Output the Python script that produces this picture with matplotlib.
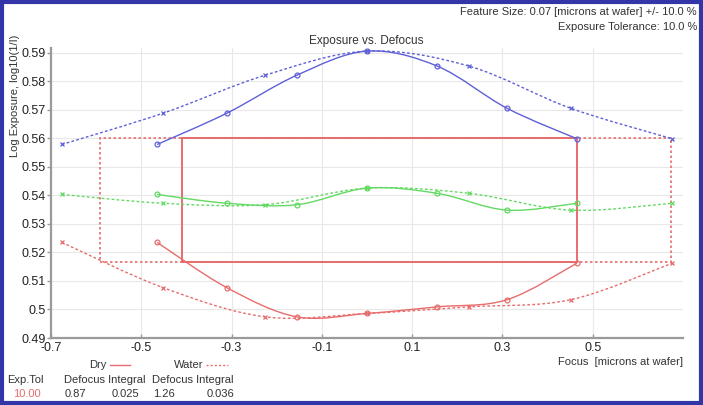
import matplotlib
matplotlib.use("Agg")
import matplotlib.pyplot as plt
import numpy as np
from matplotlib.path import Path
from matplotlib.patches import PathPatch, Rectangle
from matplotlib.lines import Line2D

plt.rcParams['font.family'] = ['Liberation Sans', 'DejaVu Sans']

# ── data ─────────────────────────────────────────────
dry_focus = [-0.465, -0.31, -0.155, 0.0, 0.155, 0.31, 0.465]
water_focus = [-0.676, -0.451, -0.225, 0.0, 0.225, 0.451, 0.676]

exp_high = [0.5578, 0.5688, 0.5821, 0.5905, 0.5853, 0.5705, 0.5598]
exp_mid = [0.5403, 0.5372, 0.5367, 0.5425, 0.5407, 0.5348, 0.5372]
exp_low = [0.5235, 0.5076, 0.4974, 0.4986, 0.5009, 0.5034, 0.5162]

dry_box = (-0.41, 0.466, 0.5166, 0.5600)     # x0, x1, y0, y1
water_box = (-0.592, 0.673, 0.5166, 0.5600)

x_ticks = [-0.7, -0.5, -0.3, -0.1, 0.1, 0.3, 0.5]
y_ticks = [0.49, 0.50, 0.51, 0.52, 0.53, 0.54, 0.55, 0.56, 0.57, 0.58, 0.59]
y_tick_labels = ["0.49", "0.5", "0.51", "0.52", "0.53", "0.54", "0.55",
                 "0.56", "0.57", "0.58", "0.59"]

BLUE = "#5f5fd8"
GREEN = "#62da62"
RED = "#e86c6c"


def smooth_path(xs, ys):
    """Catmull-Rom 曲線轉成 Bezier path（只是畫法，不是資料）"""
    pts = np.column_stack([xs, ys])
    ext = np.vstack([pts[0], pts, pts[-1]])
    verts = [pts[0]]
    codes = [Path.MOVETO]
    for i in range(1, len(ext) - 2):
        p0, p1, p2, p3 = ext[i - 1], ext[i], ext[i + 1], ext[i + 2]
        verts += [p1 + (p2 - p0) / 6, p2 - (p3 - p1) / 6, p2]
        codes += [Path.CURVE4] * 3
    return Path(verts, codes)


def draw_curve(ax, xs, ys, color, dashed, marker):
    ls = (0, (2, 1.6)) if dashed else "-"
    ax.add_patch(PathPatch(smooth_path(xs, ys), fill=False, edgecolor=color,
                           linewidth=1.0, linestyle=ls, zorder=3))
    ax.plot(xs, ys, linestyle="none", marker=marker, markersize=3.5,
            markerfacecolor="none", markeredgecolor=color, markeredgewidth=0.9,
            zorder=4)


fig = plt.figure(figsize=(7.03, 4.05), dpi=100)
ax = fig.add_axes([51 / 703, 1 - 338 / 405, (683 - 51) / 703, (338 - 48) / 405])

ax.set_xlim(-0.7, 0.7)
ax.set_ylim(0.49, 0.5916)
ax.set_xticks(x_ticks)
ax.set_xticklabels([f"{t:g}" for t in x_ticks], fontsize=9)
ax.set_yticks(y_ticks)
ax.set_yticklabels(y_tick_labels, fontsize=9)
ax.grid(True, color="#e8e8e8", linewidth=0.8)
ax.set_axisbelow(True)
for s in ["top", "right"]:
    ax.spines[s].set_visible(False)
for s in ["left", "bottom"]:
    ax.spines[s].set_color("#9a9a9a")
    ax.spines[s].set_linewidth(1.6)
ax.tick_params(axis="y", length=3, width=1, color="#9a9a9a", pad=1, labelcolor="#222")
ax.tick_params(axis="x", direction="in", length=3, width=1, color="#9a9a9a", pad=3,
               labelcolor="#222")

# boxes
x0, x1, y0, y1 = water_box
ax.add_patch(Rectangle((x0, y0), x1 - x0, y1 - y0, fill=False, edgecolor=RED,
                       linewidth=1.2, linestyle=(0, (1.5, 1.5)), zorder=2))
x0, x1, y0, y1 = dry_box
ax.add_patch(Rectangle((x0, y0), x1 - x0, y1 - y0, fill=False, edgecolor=RED,
                       linewidth=1.4, zorder=2))

for vals, col in [(exp_high, BLUE), (exp_mid, GREEN), (exp_low, RED)]:
    draw_curve(ax, water_focus, vals, col, True, "x")
    draw_curve(ax, dry_focus, vals, col, False, "o")

# texts
fig.text(366 / 703, 1 - 41 / 405, "Exposure vs. Defocus", ha="center", va="center",
         fontsize=8.5, color="#333")
fig.text(697 / 703, 1 - 12 / 405, "Feature Size: 0.07 [microns at wafer] +/- 10.0 %",
         ha="right", va="center", fontsize=8, color="#333")
fig.text(697 / 703, 1 - 27 / 405, "Exposure Tolerance: 10.0 %",
         ha="right", va="center", fontsize=8, color="#333")
fig.text(15 / 703, 1 - 96 / 405, "Log Exposure, log10(1/I)", rotation=90,
         ha="center", va="center", fontsize=8, color="#333")
fig.text(683 / 703, 1 - 362 / 405, "Focus  [microns at wafer]", ha="right",
         va="center", fontsize=8, color="#333")

# legend row
fig.text(107 / 703, 1 - 365 / 405, "Dry", ha="right", va="center", fontsize=8, color="#333")
fig.add_artist(Line2D([110 / 703, 130 / 703], [1 - 365 / 405] * 2, color=RED, linewidth=1))
fig.text(203 / 703, 1 - 365 / 405, "Water", ha="right", va="center", fontsize=8, color="#333")
fig.add_artist(Line2D([206 / 703, 228 / 703], [1 - 365 / 405] * 2, color=RED, linewidth=1,
                      linestyle=(0, (1.5, 1.5))))

row1 = [("Exp.Tol", 7), ("Defocus Integral", 64), ("Defocus Integral", 152)]
for txt, xp in row1:
    fig.text(xp / 703, 1 - 380 / 405, txt, ha="left", va="center", fontsize=8, color="#333")
row2 = [("10.00", 13, RED), ("0.87", 65, "#333"), ("0.025", 112, "#333"),
        ("1.26", 153, "#333"), ("0.036", 207, "#333")]
for txt, xp, c in row2:
    fig.text(xp / 703, 1 - 394 / 405, txt, ha="left", va="center", fontsize=8, color=c)

# outer frame
fig.add_artist(Rectangle((2 / 703, 2 / 405), 699 / 703, 401 / 405, transform=fig.transFigure,
                         fill=False, edgecolor="#3236a8", linewidth=3))

fig.savefig("out.png", dpi=100)
